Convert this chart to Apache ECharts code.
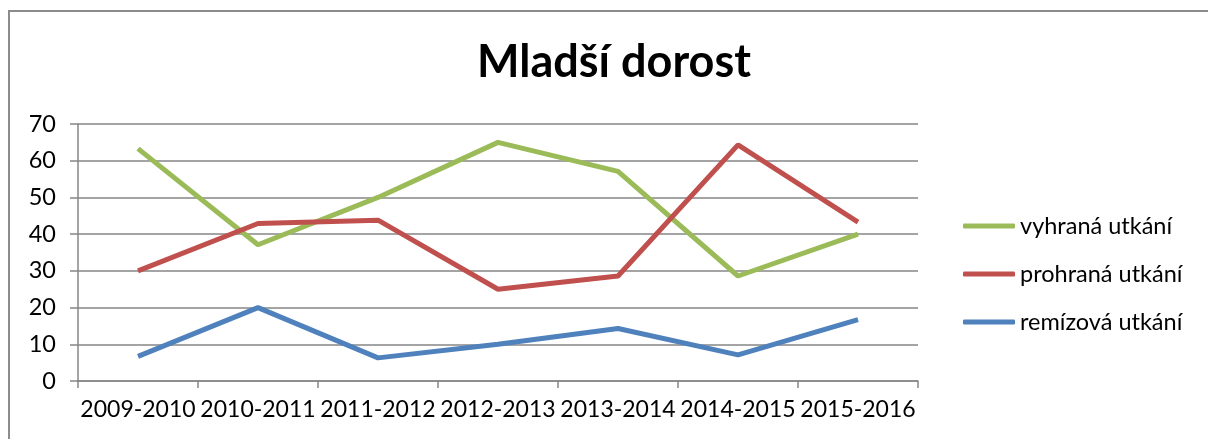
<!DOCTYPE html>
<html>
<head>
<meta charset="utf-8">
<script src="https://cdn.jsdelivr.net/npm/echarts@6/dist/echarts.min.js"></script>
<style>
  html, body { margin: 0; padding: 0; background: #fff; }
  #chart { width: 1208px; height: 439px; }
</style>
</head>
<body>
<div id="chart"></div>
<script>
// data
const seasons = ["2009-2010", "2010-2011", "2011-2012", "2012-2013", "2013-2014", "2014-2015", "2015-2016"];
const won = [63.3, 37.1, 50, 65, 57.1, 28.6, 40];
const lost = [30, 42.9, 43.8, 25, 28.6, 64.3, 43.3];
const drawn = [6.7, 20, 6.3, 10, 14.3, 7.1, 16.7];
const seriesNames = ["vyhraná utkání", "prohraná utkání", "remízová utkání"];
const colors = ["#9BBB59", "#C0504D", "#4F81BD"];

const font = "Lato, 'Open Sans', sans-serif";
let chart = echarts.init(document.getElementById("chart"));

function lineSeries(name, data, color) {
  return {
    name: name,
    type: "line",
    data: data,
    symbol: "none",
    lineStyle: { color: color, width: 5 },
    itemStyle: { color: color }
  };
}

let option = {
  animation: false,
  textStyle: { fontFamily: font },
  title: {
    text: "Mladší dorost",
    left: 609,
    top: 35,
    textAlign: "center",
    textStyle: { fontFamily: font, fontSize: 45, fontWeight: "bold", color: "#000" }
  },
  graphic: [
    {
      type: "rect",
      shape: { x: 9, y: 11, width: 1400, height: 600 },
      style: { fill: "none", stroke: "#8c8c8c", lineWidth: 2 }
    }
  ],
  legend: {
    orient: "vertical",
    left: 958,
    top: 208,
    icon: "roundRect",
    itemWidth: 52,
    itemHeight: 5,
    itemGap: 22,
    itemTextGap: 6,
    data: seriesNames,
    textStyle: { fontFamily: font, fontSize: 23.5, color: "#000", lineHeight: 26 }
  },
  grid: { left: 78, right: 290, top: 124, bottom: 58 },
  xAxis: {
    type: "category",
    data: seasons,
    boundaryGap: true,
    axisLine: { lineStyle: { color: "#868686", width: 1.5 } },
    axisTick: { show: true, length: 7, lineStyle: { color: "#868686", width: 1.5 } },
    axisLabel: { color: "#000", fontSize: 23, fontFamily: font, margin: 17, interval: 0 }
  },
  yAxis: {
    type: "value",
    min: 0,
    max: 70,
    interval: 10,
    axisLine: { show: true, lineStyle: { color: "#868686", width: 1.5 } },
    axisTick: { show: true, length: 8, lineStyle: { color: "#868686", width: 1.5 } },
    axisLabel: { color: "#000", fontSize: 23.5, fontFamily: font, margin: 22 },
    splitLine: { lineStyle: { color: "#868686", width: 1.5 } }
  },
  series: [
    lineSeries(seriesNames[0], won, colors[0]),
    lineSeries(seriesNames[1], lost, colors[1]),
    lineSeries(seriesNames[2], drawn, colors[2])
  ]
};

chart.setOption(option);
</script>
</body>
</html>
